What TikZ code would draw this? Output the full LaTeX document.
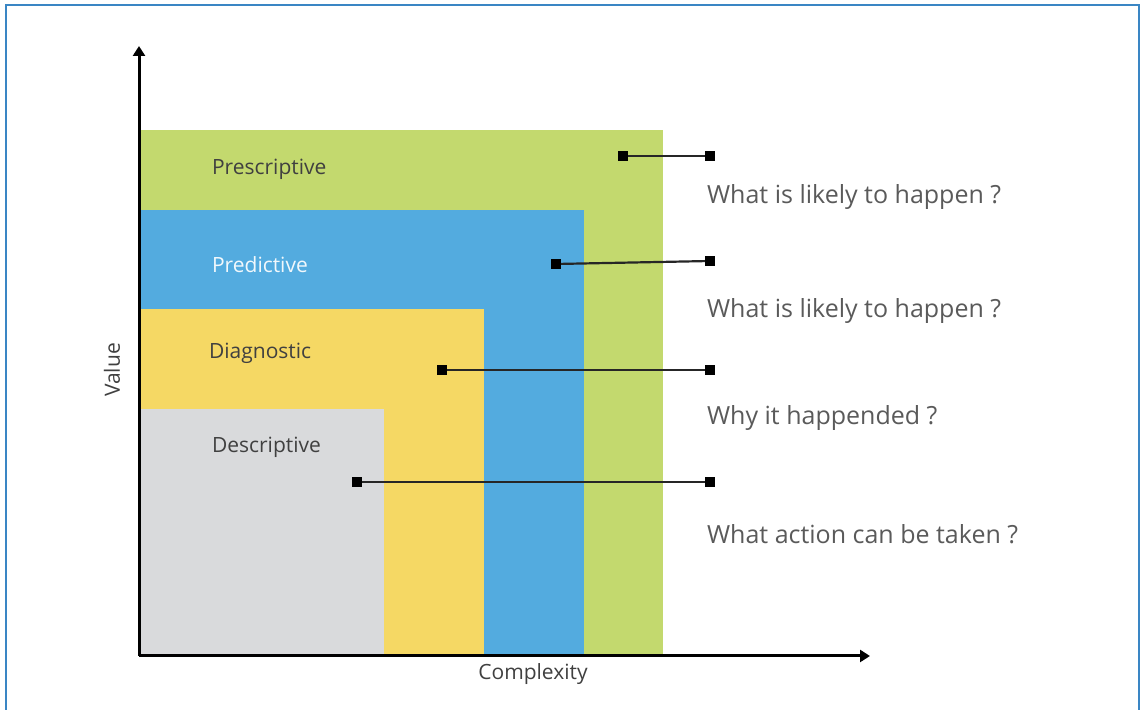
\documentclass[tikz,border=0pt]{standalone}
\usepackage{fontspec}
\setmainfont{Open Sans}
\usetikzlibrary{arrows.meta}
\definecolor{cgreen}{HTML}{C3D96E}
\definecolor{cblue}{HTML}{53ABDF}
\definecolor{cyellow}{HTML}{F5D864}
\definecolor{cgray}{HTML}{D9DADC}
\definecolor{cframe}{HTML}{3A86C4}
\definecolor{ctext}{HTML}{404040}
\definecolor{crtext}{HTML}{5A5A5A}
\tikzset{
  sq/.style={fill=black, minimum size=5pt, inner sep=0pt, outer sep=0pt},
  leader/.style={draw=black!85, line width=1.1pt},
  band/.style={text=ctext, font=\fontsize{10.5}{12}\selectfont, anchor=west},
  question/.style={text=crtext, font=\fontsize{12.5}{14}\selectfont, anchor=west},
  axis/.style={line width=1.5pt, -{Triangle[length=5pt,width=6pt]}},
}
\begin{document}
\begin{tikzpicture}[x=0.5pt,y=-0.5pt]
\useasboundingbox (0,0) rectangle (1141,710);
\draw[cframe, line width=1pt] (6,712) -- (6,5) -- (1139,5) -- (1139,712);
% bands
\fill[cgreen] (139,130) rectangle (663,656);
\fill[cblue] (139,210) rectangle (584,656);
\fill[cyellow] (139,309) rectangle (484,656);
\fill[cgray] (139,409) rectangle (384,656);
% axes
\coordinate (o) at (139,656);
\coordinate (ytip) at (139,46);
\coordinate (xtip) at (870,656);
\draw[axis] (o) -- (ytip);
\draw[axis] (o) -- (xtip);
\node[text=ctext, font=\fontsize{10.5}{12}\selectfont, rotate=90] (vlab) at (112,370) {Value};
\node[text=ctext, font=\fontsize{10.5}{12}\selectfont] (clab) at (533,674) {Complexity};
% band labels
\node[band] (l1) at (205,169) {Prescriptive};
\node[band, text=white!92!cblue] (l2) at (205,265) {Predictive};
\node[band] (l3) at (202,353) {Diagnostic};
\node[band] (l4) at (205,447) {Descriptive};
% leaders
\node[sq] (a1) at (623,156) {};
\node[sq] (b1) at (710,156) {};
\node[sq] (a2) at (556,264) {};
\node[sq] (b2) at (710,261) {};
\node[sq] (a3) at (442,370) {};
\node[sq] (b3) at (710,370) {};
\node[sq] (a4) at (357,482) {};
\node[sq] (b4) at (710,482) {};
\draw[leader] (a1) -- (b1);
\draw[leader] (a2) -- (b2);
\draw[leader] (a3) -- (b3);
\draw[leader] (a4) -- (b4);
% questions
\node[question] (q1) at (700,197) {What is likely to happen ?};
\node[question] (q2) at (700,311) {What is likely to happen ?};
\node[question] (q3) at (700,418) {Why it happended ?};
\node[question] (q4) at (700,534) {What action can be taken ?};
\end{tikzpicture}
\end{document}
